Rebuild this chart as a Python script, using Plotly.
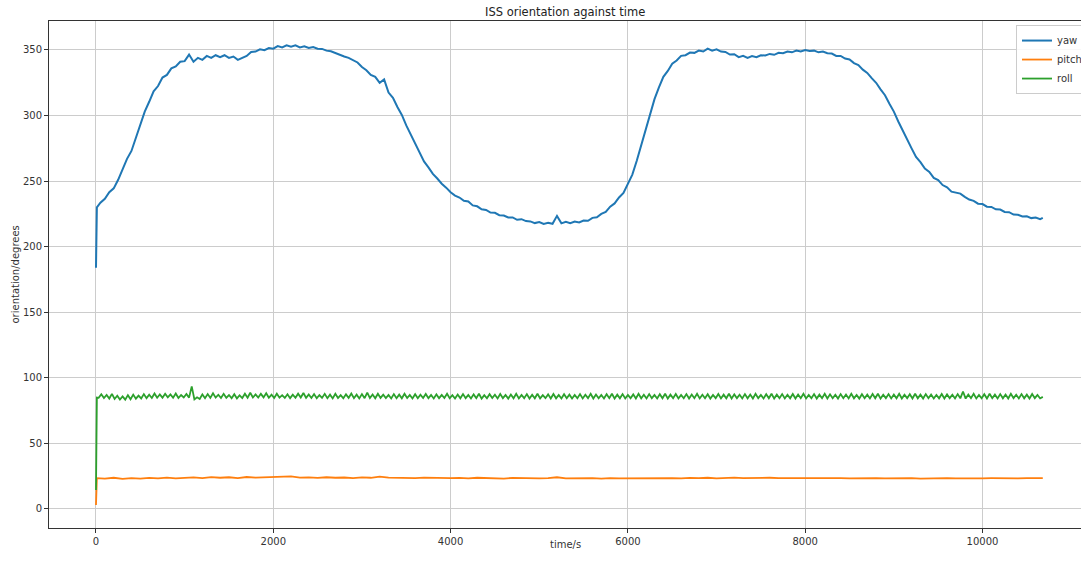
import plotly.graph_objects as go

# ---------------- data ----------------
yaw_t = [0, 10] + list(range(50, 10651, 50)) + [10680]
yaw = [
    184, 230,
    233.5, 236.5, 241.5, 244.5, 251, 258.5, 267, 273, 282.5, 292.5,
    303, 310.5, 318.5, 322.5, 329, 331, 336, 337.5, 341, 341.5,
    346.5, 341, 344, 342.5, 345.5, 344, 346, 344.5, 346, 344,
    345, 342.5, 344, 345.5, 348.5, 348.8, 350.5, 349.8, 351.5, 351,
    353, 352, 353.5, 352.5, 353.5, 352, 352.8, 351.5, 352.3, 351,
    350.8, 349.5, 349, 347.5, 346.5, 345, 344, 342, 340.5, 337,
    334.5, 331, 329.5, 325, 327.5, 317.5, 313.5, 306.5, 300.5, 292.5,
    285.5, 278, 271.5, 265, 260.5, 255.5, 252, 248, 245, 241.5,
    239, 237.5, 235, 234.5, 231.5, 230.8, 228.5, 228, 226, 225.8,
    224, 223.8, 222.3, 222.3, 220.5, 221, 219.5, 219.3, 218, 218.8,
    217.3, 218.2, 217.5, 223.5, 217.8, 219, 218, 219.2, 218.5, 220,
    219.8, 222, 222.5, 225, 226.5, 230.5, 233, 237.5, 241, 247.5,
    255, 265.5, 277.5, 290.5, 301, 312.5, 321.5, 329.5, 334, 339.5,
    342, 345.5, 346, 348, 347.8, 349.5, 348.8, 351, 349.5, 350.5,
    348.8, 348.5, 346.5, 346.8, 344.5, 345.5, 344, 345.3, 344.5, 346,
    345.8, 347, 346.3, 347.8, 347.5, 348.8, 348.2, 349.5, 348.8, 350,
    349.2, 349.5, 348.2, 348.8, 347.5, 347.3, 345.5, 345.5, 343.5, 342.8,
    340, 338.5, 335, 332.5, 328.5, 325, 320, 315.5, 309, 303,
    295.5, 288.5, 281, 275, 268.5, 264.5, 259.5, 257, 252.5, 250.8,
    247, 245.3, 242, 241, 240.5, 238, 236, 235, 232.8, 232.5,
    230.5, 230.3, 228.5, 228.3, 226.5, 226.3, 224.5, 224.3, 223, 223.2,
    221.8, 222.3, 221,
    222,
]

pitch_t = [0, 10] + list(range(100, 10601, 100)) + [10680]
pitch = [
    3, 23.5,
    23.2, 23.8, 22.9, 23.5, 23.1, 23.7, 23.3, 23.9, 23.4, 23.6,
    24.1, 23.5, 24.3, 23.8, 24.2, 23.6, 24.4, 23.9, 24.2, 24.0,
    24.3, 24.8, 23.9, 24.1, 23.7, 24.2, 23.8, 24.0, 23.6, 24.1,
    23.8, 24.6, 23.9, 23.7, 24.0, 23.5, 23.9, 23.6, 23.8, 23.5,
    23.7, 23.4, 23.8, 23.5, 23.6, 23.2, 23.7, 23.4, 23.5, 23.3,
    23.6, 24.2, 23.4, 23.6, 23.3, 23.5, 23.2, 23.6, 23.4, 23.5,
    23.7, 23.4, 23.8, 23.5, 23.6, 23.3, 23.7, 23.5, 23.8, 23.4,
    23.6, 23.9, 23.5, 23.7, 23.6, 23.8, 23.5, 23.7, 23.4, 23.6,
    23.5, 23.7, 23.4, 23.6, 23.3, 23.5, 23.2, 23.6, 23.4, 23.5,
    23.3, 23.6, 23.2, 23.5, 23.4, 23.6, 23.3, 23.5, 23.2, 23.4,
    23.5, 23.3, 23.6, 23.4, 23.5, 23.7,
    23.6,
]

roll_t = [0, 10] + list(range(30, 10651, 30)) + [10680]
roll = [
    14.4, 85,
    84.8, 87.5, 84.6, 86.9, 84.2, 87.8, 83.9, 86.4, 83.5, 85.9, 83.4, 86.8, 83.7, 87.2, 84.1, 86.5, 84.3, 87.6, 84.5, 87.1,
    84.6, 88.1, 84.8, 87.3, 84.9, 87.9, 85.1, 87.4, 84.8, 88.0, 84.6, 86.9, 85.0, 87.7, 84.9, 93.5, 83.6, 85.2, 83.9, 87.4,
    84.5, 87.6, 84.7, 88.2, 84.9, 87.1, 84.6, 87.8, 84.8, 86.9, 84.5, 87.5, 84.3, 86.7, 84.6, 87.9, 84.8, 88.6, 85.0, 87.3,
    84.9, 87.8, 85.1, 88.3, 84.8, 87.2, 84.6, 87.9, 84.9, 86.8, 84.7, 87.5, 84.5, 87.1, 84.8, 87.9, 85.0, 88.4, 84.7, 87.3,
    84.6, 87.6, 84.4, 86.9, 84.7, 87.8, 84.5, 87.2, 84.3, 87.9, 84.6, 86.8, 84.4, 87.4, 84.7, 88.1, 84.5, 87.2, 84.3, 87.6,
    84.5, 88.7, 84.6, 87.3, 84.4, 87.9, 84.7, 87.1, 84.5, 86.9, 84.3, 87.6, 84.5, 87.2, 84.4, 87.8, 84.6, 87.0, 84.3, 87.5,
    84.4, 87.1, 84.6, 87.7, 84.5, 86.9, 84.3, 87.4, 84.5, 87.0, 84.6, 87.8, 84.4, 86.8, 84.2, 87.3, 84.4, 87.6, 84.5, 86.9,
    84.3, 87.4, 84.5, 87.9, 84.2, 86.8, 84.4, 87.5, 84.6, 87.1, 84.3, 87.7, 84.5, 86.9, 84.2, 87.3, 84.4, 87.8, 84.3, 87.0,
    84.5, 87.6, 84.2, 87.1, 84.4, 87.9, 84.3, 86.8, 84.5, 87.4, 84.2, 87.7, 84.4, 87.0, 84.3, 87.5, 84.5, 87.2, 84.2, 86.9,
    84.4, 87.6, 84.3, 87.1, 84.5, 87.8, 84.2, 87.3, 84.4, 86.9, 84.3, 87.5, 84.5, 87.9, 84.2, 87.2, 84.4, 87.6, 84.3, 87.0,
    84.5, 87.4, 84.2, 87.8, 84.4, 87.1, 84.3, 87.6, 84.5, 86.9, 84.3, 87.5, 84.4, 87.9, 84.2, 87.2, 84.5, 87.7, 84.3, 87.0,
    84.4, 87.6, 84.2, 87.3, 84.5, 87.8, 84.3, 87.1, 84.4, 87.5, 84.2, 86.9, 84.5, 87.7, 84.3, 87.2, 84.4, 87.9, 84.3, 87.4,
    84.5, 87.1, 84.3, 87.6, 84.4, 87.3, 84.2, 87.8, 84.5, 87.0, 84.3, 87.5, 84.4, 87.9, 84.2, 87.2, 84.5, 87.6, 84.3, 87.1,
    84.4, 87.7, 84.2, 87.3, 84.5, 87.8, 84.3, 87.0, 84.4, 87.6, 84.2, 87.2, 84.5, 87.9, 84.3, 87.4, 84.4, 87.1, 84.2, 87.6,
    84.5, 87.3, 84.3, 87.8, 84.4, 87.0, 84.2, 87.5, 84.5, 87.2, 84.3, 87.7, 84.4, 87.9, 84.2, 87.1, 84.5, 87.6, 84.3, 87.3,
    84.4, 87.8, 84.2, 87.1, 84.5, 87.5, 84.3, 87.9, 84.4, 87.2, 84.2, 87.6, 84.5, 87.3, 84.3, 87.0, 84.4, 87.7, 84.2, 87.4,
    84.5, 87.1, 84.3, 87.6, 84.4, 89.6, 84.2, 87.3, 84.5, 87.8, 84.3, 87.0, 84.4, 87.5, 84.2, 87.9, 84.5, 87.2, 84.3, 87.6,
    84.4, 87.3, 84.2, 87.8, 84.5, 87.1, 84.3, 87.6, 84.4, 87.2, 84.2, 87.7, 84.5, 87.0, 84.3,
    85.5,
]

series_names = ["yaw", "pitch", "roll"]
series_colors = ["#1f77b4", "#ff7f0e", "#2ca02c"]
series_widths = [2.0, 1.8, 1.8]
x_ticks = [0, 2000, 4000, 6000, 8000, 10000]
x_tick_labels = ["0", "2000", "4000", "6000", "8000", "10000"]
y_ticks = [0, 50, 100, 150, 200, 250, 300, 350]
y_tick_labels = ["0", "50", "100", "150", "200", "250", "300", "350"]

# ---------------- figure ----------------
FONT = "DejaVu Sans, Arial, sans-serif"
fig = go.Figure()
for name, tt, vv, col, lw in zip(series_names, [yaw_t, pitch_t, roll_t], [yaw, pitch, roll],
                                 series_colors, series_widths):
    fig.add_trace(go.Scatter(x=tt, y=vv, mode="lines", name=name,
                             line=dict(color=col, width=lw)))

axis_common = dict(
    showgrid=True, gridcolor="#cccccc", gridwidth=1,
    showline=True, linecolor="#333333", linewidth=1, mirror=True,
    ticks="outside", ticklen=4, tickcolor="#333333",
    tickfont=dict(family=FONT, size=10, color="#333333"),
    zeroline=False, automargin=False,
)
fig.update_xaxes(range=[-530, 11111], tickvals=x_ticks, ticktext=x_tick_labels, **axis_common)
fig.update_yaxes(range=[-14.5, 372.1], tickvals=y_ticks, ticktext=y_tick_labels, **axis_common)

fig.update_layout(
    width=1081, height=561,
    margin=dict(l=49, r=0, t=21, b=33, autoexpand=False),
    paper_bgcolor="white", plot_bgcolor="white",
    showlegend=True,
    legend=dict(x=0.937, y=0.992, xanchor="left", yanchor="top",
                bgcolor="rgba(255,255,255,0.85)", bordercolor="#cccccc", borderwidth=1,
                font=dict(family=FONT, size=10, color="#333333"),
                tracegroupgap=0),
    annotations=[
        dict(text="ISS orientation against time", x=0.5, y=1, xref="paper", yref="paper",
             yanchor="middle", yshift=9,
             showarrow=False, font=dict(family=FONT, size=11.5, color="#222222")),
        dict(text="time/s", x=0.5, y=0, xref="paper", yref="paper", yshift=-24,
             showarrow=False, font=dict(family=FONT, size=10, color="#333333")),
        dict(text="orientation/degrees", x=0, y=0.5, xref="paper", yref="paper",
             xanchor="center", xshift=-34,
             showarrow=False, textangle=-90, font=dict(family=FONT, size=10, color="#333333")),
    ],
)

# remove the default 8px page margin so the figure fills the window exactly
fig.write_html("out.html", config={"displayModeBar": False},
               post_script="document.body.style.margin='0';")
